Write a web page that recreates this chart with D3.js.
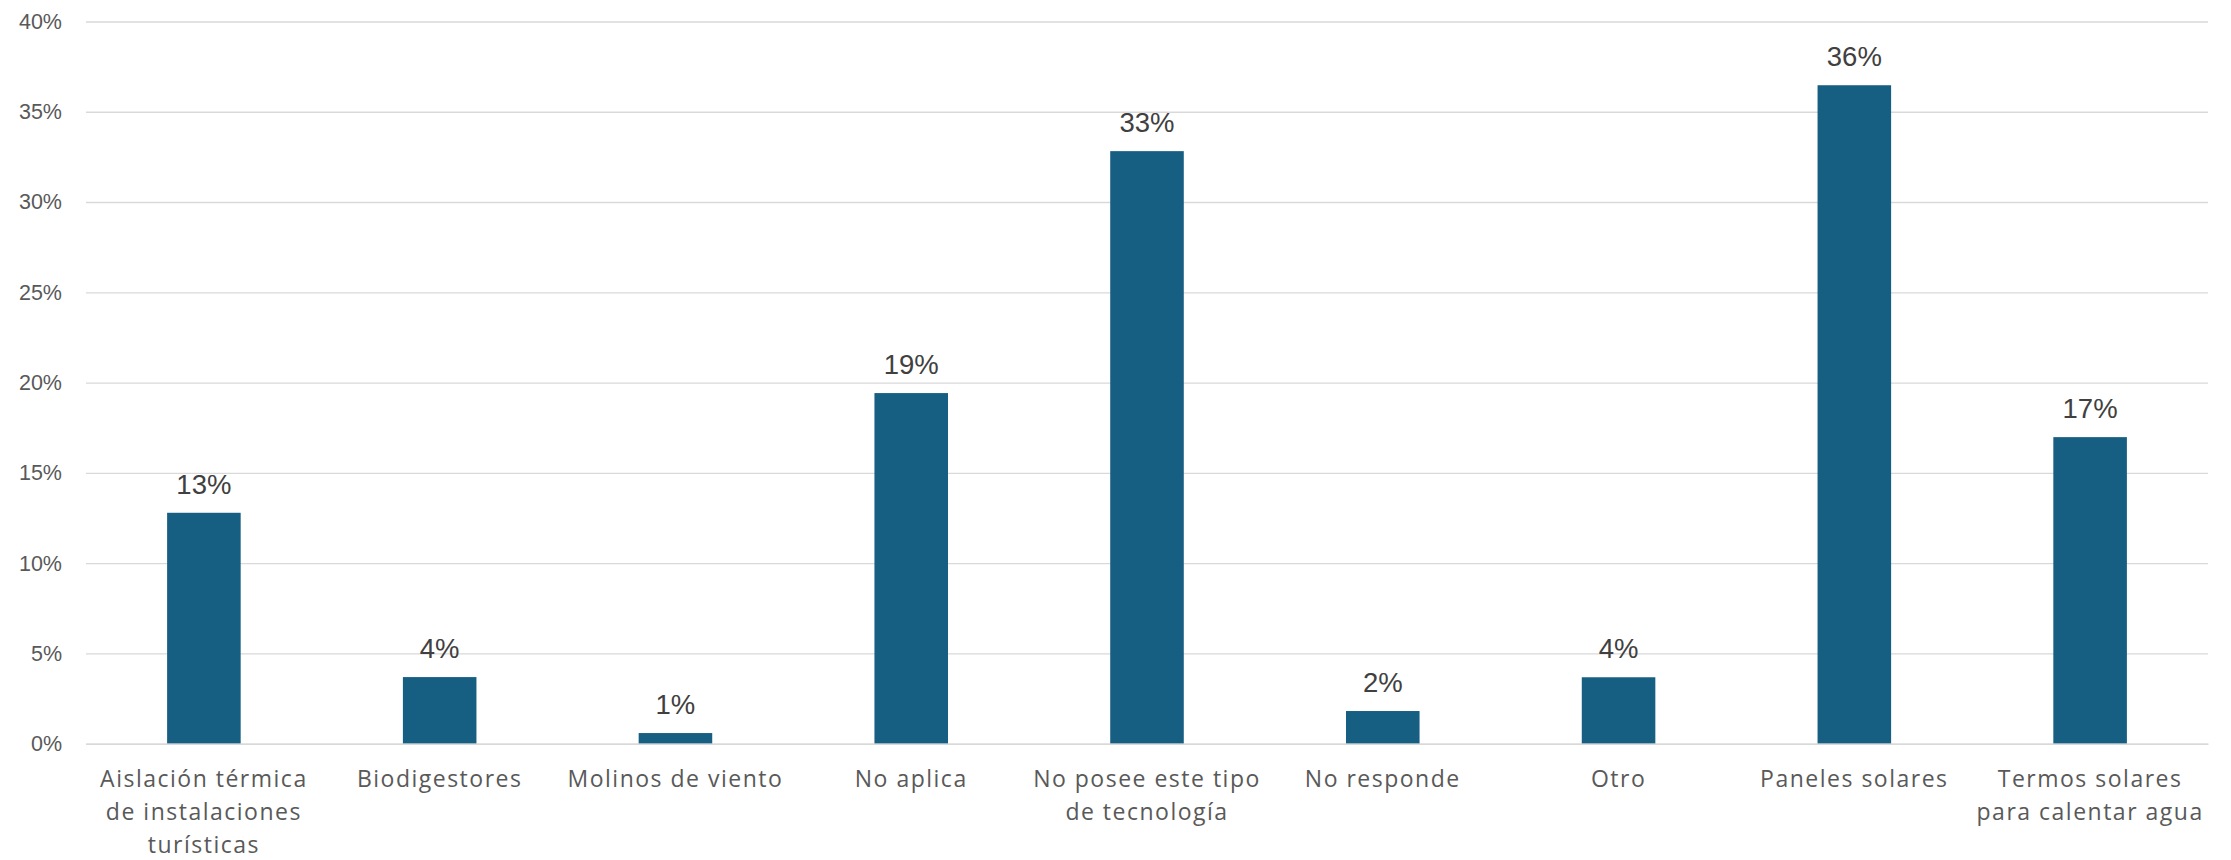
<!DOCTYPE html>
<html>
<head>
<meta charset="utf-8">
<script src="https://cdn.jsdelivr.net/npm/d3@7"></script>
<style>
  html, body { margin: 0; padding: 0; background: #ffffff; }
  svg { display: block; }
</style>
</head>
<body>
<script>
const categories = [
  "Aislación térmica de instalaciones turísticas",
  "Biodigestores",
  "Molinos de viento",
  "No aplica",
  "No posee este tipo de tecnología",
  "No responde",
  "Otro",
  "Paneles solares",
  "Termos solares para calentar agua"
];
const categoryLines = [
  ["Aislación térmica", "de instalaciones", "turísticas"],
  ["Biodigestores"],
  ["Molinos de viento"],
  ["No aplica"],
  ["No posee este tipo", "de tecnología"],
  ["No responde"],
  ["Otro"],
  ["Paneles solares"],
  ["Termos solares", "para calentar agua"]
];
const values = [0.1279, 0.0369, 0.0059, 0.1942, 0.3282, 0.0181, 0.0368, 0.3647, 0.1698];
const yTicks = [0, 0.05, 0.10, 0.15, 0.20, 0.25, 0.30, 0.35, 0.40];

const W = 2231, H = 860;
const margin = { left: 86, right: 23, top: 21.5, bottom: 116.3 };

const svg = d3.select("body").append("svg")
  .attr("width", W).attr("height", H);

const x = d3.scaleBand()
  .domain(categories)
  .range([margin.left, W - margin.right])
  .paddingInner(0).paddingOuter(0);

const y = d3.scaleLinear()
  .domain([0, 0.40])
  .range([H - margin.bottom, margin.top]);

const barW = x.bandwidth() * 0.312;
const fmt = d3.format(".0%");

// grid lines via axis
const yAxis = d3.axisLeft(y)
  .tickValues(yTicks)
  .tickSize(-(W - margin.left - margin.right))
  .tickFormat(fmt)
  .tickPadding(24);

const gy = svg.append("g")
  .attr("transform", `translate(${margin.left},0)`)
  .call(yAxis);
gy.select(".domain").remove();
gy.selectAll(".tick line")
  .attr("stroke", "#d9d9d9")
  .attr("stroke-width", 1.4);
gy.selectAll(".tick text")
  .attr("fill", "#595959")
  .style("font-family", "'Liberation Sans', Arial, sans-serif")
  .style("font-size", "21.5px");

// bars
svg.append("g").selectAll("rect")
  .data(values)
  .join("rect")
  .attr("x", (d, i) => x(categories[i]) + (x.bandwidth() - barW) / 2)
  .attr("width", barW)
  .attr("y", d => y(d))
  .attr("height", d => y(0) - y(d))
  .attr("fill", "#175f82");

// baseline axis
const xAxis = d3.axisBottom(x).tickSize(0).tickFormat("");
const gx = svg.append("g")
  .attr("transform", `translate(0,${y(0)})`)
  .call(xAxis);
gx.select(".domain")
  .attr("stroke", "#d9d9d9")
  .attr("stroke-width", 1.6);

// data labels
svg.append("g").selectAll("text")
  .data(values)
  .join("text")
  .attr("x", (d, i) => x(categories[i]) + x.bandwidth() / 2)
  .attr("y", d => y(d) - 19)
  .attr("text-anchor", "middle")
  .attr("fill", "#404040")
  .style("font-family", "'Liberation Sans', Arial, sans-serif")
  .style("font-size", "27.5px")
  .text(d => fmt(d));

// category labels
const cl = svg.append("g").selectAll("text")
  .data(categoryLines)
  .join("text")
  .attr("text-anchor", "middle")
  .attr("fill", "#595959")
  .style("font-family", "'Open Sans', 'Liberation Sans', sans-serif")
  .style("font-size", "23px")
  .style("letter-spacing", "1.5px")
  .attr("x", (d, i) => x(categories[i]) + x.bandwidth() / 2)
  .attr("y", y(0) + 43);
cl.each(function(lines, i) {
  const t = d3.select(this);
  const cx = x(categories[i]) + x.bandwidth() / 2;
  lines.forEach((ln, j) => {
    t.append("tspan")
      .attr("x", cx)
      .attr("dy", j === 0 ? 0 : 33)
      .text(ln);
  });
});
</script>
</body>
</html>
